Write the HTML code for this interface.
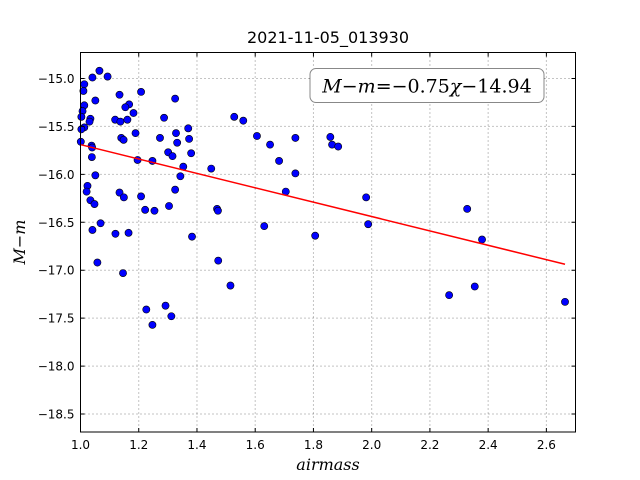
<!DOCTYPE html>
<html><head><meta charset="utf-8"><style>
body{margin:0;background:#fff;}
svg{display:block;}
</style></head><body>
<svg id="chart" width="640" height="480" xmlns="http://www.w3.org/2000/svg">
<rect x="0" y="0" width="640" height="480" fill="#fff"/>
<text x="328" y="43" text-anchor="middle" font-family="DejaVu Sans, Liberation Sans, sans-serif" font-size="16">2021-11-05_013930</text>
<g id="grid"></g>
<g id="marks"></g>
<g id="axes"></g>
<rect x="80.5" y="52.5" width="495" height="379.5" fill="none" stroke="#000" stroke-width="1"/>
<g>
<rect x="310" y="68.5" width="234" height="34" rx="6" fill="#fff" stroke="#888" stroke-width="1"/>
<text x="427" y="92.5" text-anchor="middle" font-family="DejaVu Serif, Liberation Serif, serif" font-size="19"><tspan font-style="italic">M</tspan>−<tspan font-style="italic">m</tspan>=−0.75<tspan font-style="italic">χ</tspan>−14.94</text>
</g>
<text x="328" y="470" text-anchor="middle" font-family="DejaVu Serif, Liberation Serif, serif" font-style="italic" font-size="16">airmass</text>
<text transform="translate(25,242) rotate(-90)" text-anchor="middle" font-family="DejaVu Serif, Liberation Serif, serif" font-size="16"><tspan font-style="italic">M</tspan>−<tspan font-style="italic">m</tspan></text>
</svg>
<script>
const airmass=[1.065,1.041,1.093,1.013,1.010,1.134,1.208,1.325,1.051,1.013,1.007,1.167,1.154,1.182,1.003,1.034,1.031,1.119,1.137,1.161,1.287,1.013,1.003,1.189,1.328,1.370,1.140,1.148,1.273,1.332,1.373,1.001,1.038,1.040,1.301,1.316,1.196,1.247,1.039,1.380,1.353,1.343,1.051,1.024,1.021,1.325,1.134,1.149,1.208,1.034,1.048,1.222,1.254,1.304,1.069,1.041,1.120,1.165,1.383,1.058,1.146,1.226,1.292,1.312,1.247,1.528,1.559,1.606,1.651,1.738,1.682,1.738,1.449,1.705,1.469,1.472,1.631,1.806,1.473,1.515,1.858,1.864,1.885,1.981,1.988,2.328,2.379,2.266,2.354,2.664];
const magDiff=[-14.92,-14.99,-14.98,-15.06,-15.13,-15.17,-15.14,-15.21,-15.23,-15.28,-15.34,-15.27,-15.30,-15.36,-15.40,-15.42,-15.45,-15.43,-15.45,-15.43,-15.41,-15.51,-15.53,-15.57,-15.57,-15.52,-15.62,-15.64,-15.62,-15.67,-15.63,-15.66,-15.70,-15.72,-15.77,-15.81,-15.85,-15.86,-15.82,-15.78,-15.92,-16.02,-16.01,-16.12,-16.18,-16.16,-16.19,-16.24,-16.23,-16.27,-16.31,-16.37,-16.38,-16.33,-16.51,-16.58,-16.62,-16.61,-16.65,-16.92,-17.03,-17.41,-17.37,-17.48,-17.57,-15.40,-15.44,-15.60,-15.69,-15.62,-15.86,-15.99,-15.94,-16.18,-16.36,-16.38,-16.54,-16.64,-16.90,-17.16,-15.61,-15.69,-15.71,-16.24,-16.52,-16.36,-16.68,-17.26,-17.17,-17.33];
const fitSlope=-0.75;
const fitIntercept=-14.94;
const xTicks=[1.0,1.2,1.4,1.6,1.8,2.0,2.2,2.4,2.6];
const xTickLabels=["1.0","1.2","1.4","1.6","1.8","2.0","2.2","2.4","2.6"];
const yTicks=[-15.0,-15.5,-16.0,-16.5,-17.0,-17.5,-18.0,-18.5];
const yTickLabels=["\u221215.0","\u221215.5","\u221216.0","\u221216.5","\u221217.0","\u221217.5","\u221218.0","\u221218.5"];

const NS="http://www.w3.org/2000/svg";
const L=80.5,R=575.5,T=52.5,B=432;
const X0=1.0,X1=2.7,Y0=-18.6875,Y1=-14.729;
function sx(v){return L+(v-X0)/(X1-X0)*(R-L);}
function sy(v){return B-(v-Y0)/(Y1-Y0)*(B-T);}
function mk(tag,attrs){const e=document.createElementNS(NS,tag);for(const k in attrs)e.setAttribute(k,attrs[k]);return e;}
const grid=document.getElementById('grid'),axes=document.getElementById('axes'),marks=document.getElementById('marks');
xTicks.forEach((t,i)=>{
  const x=sx(t);
  const g=mk('line',{x1:x,x2:x,y1:T,y2:B,stroke:'#888','stroke-dasharray':'1,3','stroke-width':1});
  
  
  grid.appendChild(g);
  const tk=mk('path',{d:`M${x},${B}v-4M${x},${T}v4`,stroke:'#000','stroke-width':1});
  
  
  axes.appendChild(tk);
  const lb=mk('text',{x:x,y:B+17,'text-anchor':'middle','font-family':'DejaVu Sans, Liberation Sans, sans-serif','font-size':12});
  lb.textContent=xTickLabels[i];
  
  
  axes.appendChild(lb);
});
yTicks.forEach((t,i)=>{
  const y=sy(t);
  const g=mk('line',{x1:L,x2:R,y1:y,y2:y,stroke:'#888','stroke-dasharray':'1,3','stroke-width':1});
  
  
  grid.appendChild(g);
  const tk=mk('path',{d:`M${L},${y}h4M${R},${y}h-4`,stroke:'#000','stroke-width':1});
  
  
  axes.appendChild(tk);
  const lb=mk('text',{x:L-6,y:y+4.5,'text-anchor':'end','font-family':'DejaVu Sans, Liberation Sans, sans-serif','font-size':12});
  lb.textContent=yTickLabels[i];
  
  
  axes.appendChild(lb);
});
airmass.forEach((a,i)=>{
  const c=mk('circle',{cx:sx(a),cy:sy(magDiff[i]),r:3.6,fill:'#0000ff',stroke:'#000','stroke-width':0.6});
  
  
  marks.appendChild(c);
});
const xmin=Math.min(...airmass),xmax=Math.max(...airmass);
const fl=mk('line',{x1:sx(xmin),y1:sy(fitSlope*xmin+fitIntercept),x2:sx(xmax),y2:sy(fitSlope*xmax+fitIntercept),stroke:'#ff0000','stroke-width':1.5});


marks.appendChild(fl);
</script>
</body></html>
